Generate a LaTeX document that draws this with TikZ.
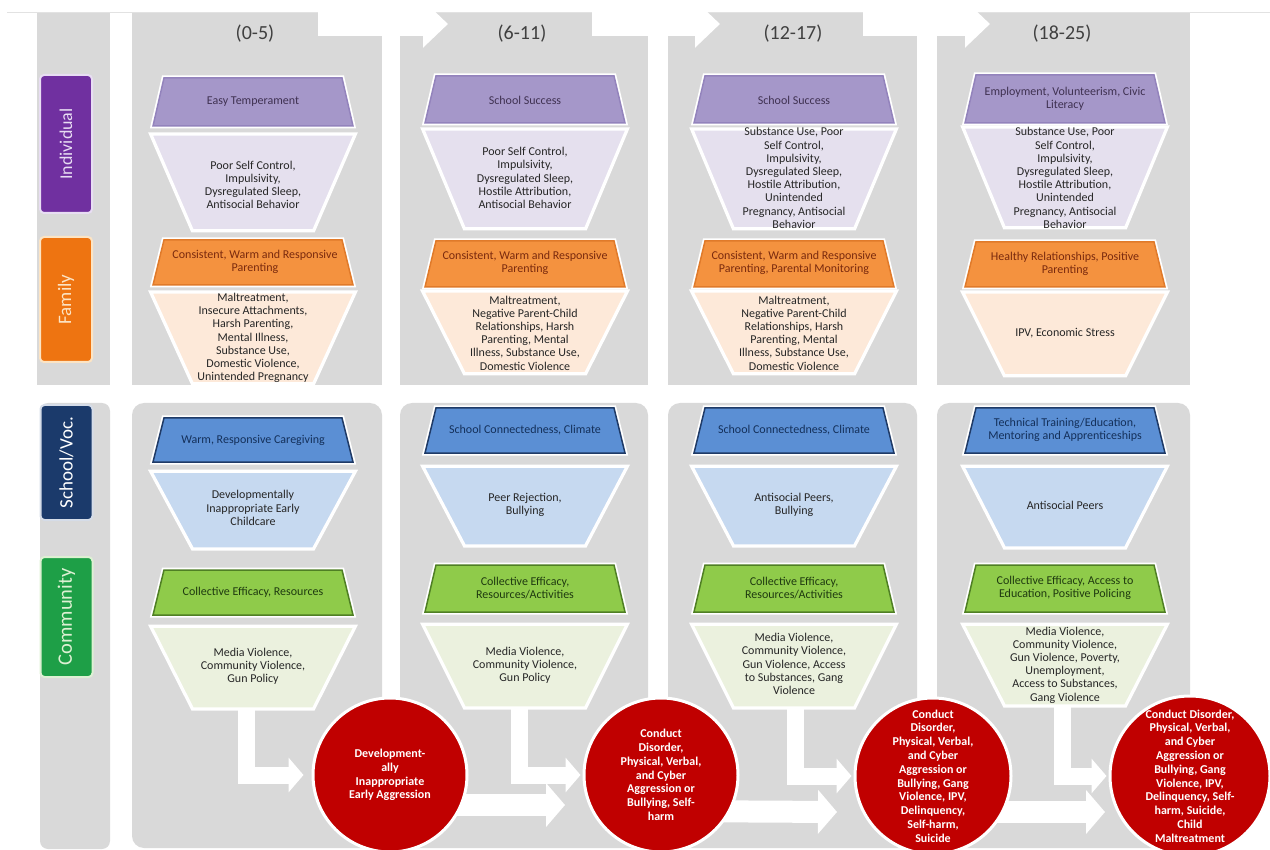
\documentclass[tikz,border=0pt]{standalone}
\usepackage{fontspec}
\setmainfont{Carlito}
\usetikzlibrary{arrows.meta}

\definecolor{panelgray}{HTML}{D9D9D9}
\definecolor{rulegray}{HTML}{E2E2E2}
\definecolor{headtext}{HTML}{404040}
\definecolor{bodytext}{HTML}{262626}
\definecolor{indcol}{HTML}{7030A0}
\definecolor{indglow}{HTML}{E8DDF3}
\definecolor{famcol}{HTML}{EE7411}
\definecolor{famglow}{HTML}{FCE4C4}
\definecolor{schcol}{HTML}{1B3A6B}
\definecolor{schglow}{HTML}{D5DCE8}
\definecolor{comcol}{HTML}{1E9F47}
\definecolor{comglow}{HTML}{DDF0D3}
\definecolor{indfill}{HTML}{A597C9}
\definecolor{indedge}{HTML}{9383BC}
\definecolor{indlow}{HTML}{E5E0EE}
\definecolor{indtext}{HTML}{3F3151}
\definecolor{famfill}{HTML}{F4923F}
\definecolor{famedge}{HTML}{E07A2A}
\definecolor{famlow}{HTML}{FDE9D9}
\definecolor{famtext}{HTML}{7A2A0E}
\definecolor{schfill}{HTML}{5B8FD4}
\definecolor{schedge}{HTML}{1F3A66}
\definecolor{schlow}{HTML}{C6D9F0}
\definecolor{schtext}{HTML}{14305A}
\definecolor{comfill}{HTML}{8FCB4A}
\definecolor{comedge}{HTML}{4F7F24}
\definecolor{comlow}{HTML}{EBF1DE}
\definecolor{comtext}{HTML}{1F3A10}
\definecolor{outred}{HTML}{C00000}

\pgfdeclarelayer{back}
\pgfdeclarelayer{mid}
\pgfsetlayers{back,mid,main}

\tikzset{
  panel/.style={fill=panelgray},
  band/.style={preaction={draw=white, line width=5pt}, line width=1.5pt},
  indhi/.style={band, fill=indfill, draw=indedge},
  indlo/.style={band, fill=indlow, draw=white},
  famhi/.style={band, fill=famfill, draw=famedge},
  famlo/.style={band, fill=famlow, draw=white},
  schhi/.style={band, fill=schfill, draw=schedge},
  schlo/.style={band, fill=schlow, draw=white},
  comhi/.style={band, fill=comfill, draw=comedge},
  comlo/.style={band, fill=comlow, draw=white},
  txt/.style={align=center, inner sep=0pt, text=bodytext, font=\fontsize{12}{13.2}\selectfont},
  agehead/.style={inner sep=0pt, text=headtext, font=\fontsize{20}{24}\selectfont},
  cat/.style={rounded corners=4pt, line width=2pt, rotate=90, minimum height=52pt, inner sep=0pt, font=\fontsize{19}{22}\selectfont},
  outcome/.style={circle, fill=outred, draw=white, line width=3pt, inner sep=0pt},
  ctext/.style={align=center, inner sep=0pt, text=white, font=\bfseries\fontsize{12}{13.8}\selectfont},
  topflow/.style={draw=white, line width=24pt, -{Triangle[length=25pt, width=46pt]}},
  lflow/.style={draw=white, line width=17pt, line join=miter, -{Triangle[length=15pt, width=34pt]}},
  cflow/.style={draw=white, line width=22pt, -{Triangle[length=19pt, width=43pt]}}
}

% trapezoid bands: centre x, top y, bottom y, style
\newcommand{\upband}[4]{%
  \draw[#4] ({#1-89},#2) -- ({#1+89},#2) -- ({#1+100},#3) -- ({#1-100},#3) -- cycle;}
\newcommand{\downband}[4]{%
  \draw[#4] ({#1-101},#2) -- ({#1+101},#2) -- ({#1+60},#3) -- ({#1-60},#3) -- cycle;}

\begin{document}
\begin{tikzpicture}[x=1pt,y=-1pt]
    \useasboundingbox (0,0) rectangle (1270,850);

    % Background panels
    \begin{pgfonlayer}{back}
    \draw[rulegray, line width=1pt] (7,13) -- (1270,13);
    \fill[panel] (37,13) rectangle (110,385);
    \fill[panel, rounded corners=8pt] (40,403) rectangle (110,849);
    \fill[panel] (132,13) rectangle (382,385);
    \fill[panel] (400,13) rectangle (648,385);
    \fill[panel] (668,13) rectangle (917,385);
    \fill[panel] (937,13) rectangle (1190,385);
    \fill[panel, rounded corners=12pt] (132,403) rectangle (382,848);
    \fill[panel, rounded corners=12pt] (400,403) rectangle (648,848);
    \fill[panel, rounded corners=12pt] (668,403) rectangle (917,848);
    \fill[panel, rounded corners=12pt] (937,403) rectangle (1190,848);
    \end{pgfonlayer}

    % Age headings
    \node[agehead] (h1) at (255,34) {(0-5)};
    \node[agehead] (h2) at (522,34) {(6-11)};
    \node[agehead] (h3) at (793,34) {(12-17)};
    \node[agehead] (h4) at (1062,34) {(18-25)};

    % Domain labels
    \node[cat, fill=indcol, draw=indglow, text=indglow, minimum width=138pt, font=\fontsize{18}{22}\selectfont] (ind) at (66,144) {Individual};
    \node[cat, fill=famcol, draw=famglow, text=famglow, minimum width=125pt] (fam) at (66,299.5) {Family};
    \node[cat, fill=schcol, draw=schglow, text=white, minimum width=115pt] (sch) at (66.5,462.5) {School/Voc.};
    \node[cat, fill=comcol, draw=comglow, text=comglow, minimum width=120pt, font=\fontsize{20.5}{24}\selectfont] (com) at (66.5,617) {Community};

    % 0-5
    \upband{253}{78}{126}{indhi}
    \node[txt, text=indtext] (ind1p) at (253,102) {Easy Temperament};
    \downband{253}{135}{230}{indlo}
    \node[txt] (ind1r) at (253,185) {Poor Self Control,\\Impulsivity,\\Dysregulated Sleep,\\Antisocial Behavior};
    \upband{253}{240}{285}{famhi}
    \node[txt, text=famtext] (fam1p) at (255,262) {Consistent, Warm and Responsive\\Parenting};
    \downband{253}{293}{383}{famlo}
    \node[txt] (fam1r) at (253,338) {Maltreatment,\\Insecure Attachments,\\Harsh Parenting,\\Mental Illness,\\Substance Use,\\Domestic Violence,\\Unintended Pregnancy};
    \upband{253}{418}{462}{schhi}
    \node[txt, text=schtext] (sch1p) at (253,440) {Warm, Responsive Caregiving};
    \downband{253}{472}{548}{schlo}
    \node[txt] (sch1r) at (253,508) {Developmentally\\Inappropriate Early\\Childcare};
    \upband{253}{570}{615}{comhi}
    \node[txt, text=comtext] (com1p) at (253,592) {Collective Efficacy, Resources};
    \downband{253}{627}{708}{comlo}
    \node[txt] (com1r) at (253,666) {Media Violence,\\Community Violence,\\Gun Policy};

    % 6-11
    \upband{525}{76}{123}{indhi}
    \node[txt, text=indtext] (ind2p) at (525,100) {School Success};
    \downband{525}{130}{228}{indlo}
    \node[txt] (ind2r) at (525,178) {Poor Self Control,\\Impulsivity,\\Dysregulated Sleep,\\Hostile Attribution,\\Antisocial Behavior};
    \upband{525}{241}{287}{famhi}
    \node[txt, text=famtext] (fam2p) at (525,263) {Consistent, Warm and Responsive\\Parenting};
    \downband{525}{292}{373}{famlo}
    \node[txt] (fam2r) at (525,333) {Maltreatment,\\Negative Parent-Child\\Relationships, Harsh\\Parenting, Mental\\Illness, Substance Use,\\Domestic Violence};
    \upband{525}{408}{453}{schhi}
    \node[txt, text=schtext] (sch2p) at (525,430) {School Connectedness, Climate};
    \downband{525}{467}{545}{schlo}
    \node[txt] (sch2r) at (525,505) {Peer Rejection,\\Bullying};
    \upband{525}{565}{612}{comhi}
    \node[txt, text=comtext] (com2p) at (525,588) {Collective Efficacy,\\Resources/Activities};
    \downband{525}{625}{707}{comlo}
    \node[txt] (com2r) at (525,665) {Media Violence,\\Community Violence,\\Gun Policy};

    % 12-17
    \upband{794}{76}{123}{indhi}
    \node[txt, text=indtext] (ind3p) at (794,100) {School Success};
    \downband{794}{130}{228}{indlo}
    \node[txt] (ind3r) at (794,178) {Substance Use, Poor\\Self Control,\\Impulsivity,\\Dysregulated Sleep,\\Hostile Attribution,\\Unintended\\Pregnancy, Antisocial\\Behavior};
    \upband{794}{241}{287}{famhi}
    \node[txt, text=famtext] (fam3p) at (794,263) {Consistent, Warm and Responsive\\Parenting, Parental Monitoring};
    \downband{794}{292}{373}{famlo}
    \node[txt] (fam3r) at (794,333) {Maltreatment,\\Negative Parent-Child\\Relationships, Harsh\\Parenting, Mental\\Illness, Substance Use,\\Domestic Violence};
    \upband{794}{408}{453}{schhi}
    \node[txt, text=schtext] (sch3p) at (794,430) {School Connectedness, Climate};
    \downband{794}{467}{545}{schlo}
    \node[txt] (sch3r) at (794,505) {Antisocial Peers,\\Bullying};
    \upband{794}{565}{612}{comhi}
    \node[txt, text=comtext] (com3p) at (794,588) {Collective Efficacy,\\Resources/Activities};
    \downband{794}{625}{707}{comlo}
    \node[txt] (com3r) at (794,664) {Media Violence,\\Community Violence,\\Gun Violence, Access\\to Substances, Gang\\Violence};

    % 18-25
    \upband{1065}{75}{123}{indhi}
    \node[txt, text=indtext] (ind4p) at (1065,99) {Employment, Volunteerism, Civic\\Literacy};
    \downband{1065}{128}{227}{indlo}
    \node[txt] (ind4r) at (1065,178) {Substance Use, Poor\\Self Control,\\Impulsivity,\\Dysregulated Sleep,\\Hostile Attribution,\\Unintended\\Pregnancy, Antisocial\\Behavior};
    \upband{1065}{242}{287}{famhi}
    \node[txt, text=famtext] (fam4p) at (1065,264) {Healthy Relationships, Positive\\Parenting};
    \downband{1065}{293}{375}{famlo}
    \node[txt] (fam4r) at (1065,333) {IPV, Economic Stress};
    \upband{1065}{408}{453}{schhi}
    \node[txt, text=schtext] (sch4p) at (1065,430) {Technical Training/Education,\\Mentoring and Apprenticeships};
    \downband{1065}{467}{547}{schlo}
    \node[txt] (sch4r) at (1065,505) {Antisocial Peers};
    \upband{1065}{565}{612}{comhi}
    \node[txt, text=comtext] (com4p) at (1065,588) {Collective Efficacy, Access to\\Education, Positive Policing};
    \downband{1065}{625}{705}{comlo}
    \node[txt] (com4r) at (1065,665) {Media Violence,\\Community Violence,\\Gun Violence, Poverty,\\Unemployment,\\Access to Substances,\\Gang Violence};

    % Outcomes
    \node[outcome, minimum size=154pt] (c1) at (390,775) {};
    \node[ctext] (c1t) at (c1) {Development-\\ally\\Inappropriate\\Early Aggression};
    \node[outcome, minimum size=154pt] (c2) at (661,775) {};
    \node[ctext] (c2t) at (c2) {Conduct\\Disorder,\\Physical, Verbal,\\and Cyber\\Aggression or\\Bullying, Self-\\harm};
    \node[outcome, minimum size=156pt] (c3) at (933,776) {};
    \node[ctext] (c3t) at (c3) {Conduct\\Disorder,\\Physical, Verbal,\\and Cyber\\Aggression or\\Bullying, Gang\\Violence, IPV,\\Delinquency,\\Self-harm,\\Suicide};
    \node[outcome, minimum size=160pt] (c4) at (1190,776) {};
    \node[ctext] (c4t) at (c4) {Conduct Disorder,\\Physical, Verbal,\\and Cyber\\Aggression or\\Bullying, Gang\\Violence, IPV,\\Delinquency, Self-\\harm, Suicide,\\Child\\Maltreatment};

    % Flow arrows
    \coordinate (m1out) at (246,708);
    \coordinate (m2out) at (519,707);
    \coordinate (m3out) at (795,707);
    \coordinate (m4out) at (1062,705);
    \begin{pgfonlayer}{mid}
    \draw[topflow] ([xshift=63pt,yshift=10pt]h1.center) -- ([xshift=-74pt,yshift=10pt]h2.center);
    \draw[topflow] ([xshift=70pt,yshift=10pt]h2.center) -- ([xshift=-73pt,yshift=10pt]h3.center);
    \draw[topflow] ([xshift=70pt,yshift=10pt]h3.center) -- ([xshift=-72pt,yshift=10pt]h4.center);
    \draw[lflow, shorten >=8pt] (m1out) |- (c1);
    \draw[lflow, shorten >=2pt] (m2out) |- (c2);
    \draw[lflow, shorten >=2pt] (m3out) |- (c3);
    \draw[lflow, shorten >=2pt] (m4out) |- (c4);
    \draw[cflow] ([yshift=-30pt]c1.center) -- ([xshift=-96pt,yshift=-30pt]c2.center);
    \draw[cflow] ([yshift=-36pt]c2.center) -- ([xshift=-96pt,yshift=-36pt]c3.center);
    \draw[cflow] ([yshift=-36pt]c3.center) -- ([xshift=-85pt,yshift=-36pt]c4.center);
    \end{pgfonlayer}
\end{tikzpicture}
\end{document}
